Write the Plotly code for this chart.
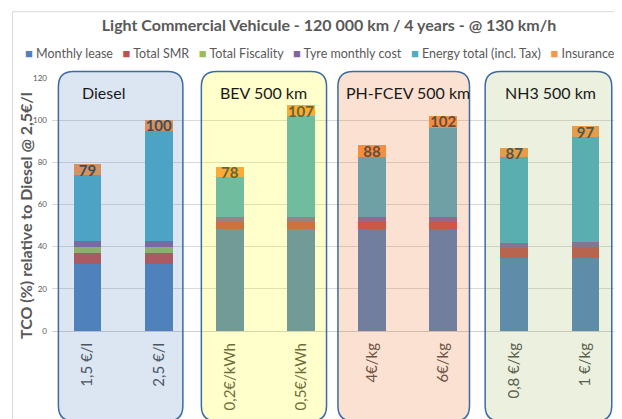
import plotly.graph_objects as go

# --- data --------------------------------------------------------------------
categories = ["1,5 €/l", "2,5 €/l", "0,2€/kWh", "0,5€/kWh", "4€/kg", "6€/kg", "0,8 €/kg", "1 €/kg"]

monthly_lease = [32, 32, 48.5, 48.5, 48.5, 48.5, 34.5, 34.5]
total_smr = [5, 5, 3.3, 3.3, 3.3, 3.3, 5, 5.2]
total_fiscality = [3, 3, 0, 0, 0, 0, 0, 0]
tyre_cost = [2.5, 2.5, 2.2, 2.2, 2.3, 2.2, 2.2, 2.3]
energy_total = [31.5, 52.5, 19.2, 47.8, 28.6, 42.5, 40.7, 50.2]
insurance = [5, 5, 4.8, 5.2, 5.3, 5.5, 4.6, 4.8]

groups = ["Diesel", "BEV 500 km", "PH-FCEV 500 km", "NH3 500 km"]

series = [
    ("Monthly lease", monthly_lease, "#4F81BD"),
    ("Total SMR", total_smr, "#C0504D"),
    ("Total Fiscality", total_fiscality, "#9BBB59"),
    ("Tyre monthly cost", tyre_cost, "#8064A2"),
    ("Energy total (incl. Tax)", energy_total, "#4BACC6"),
    ("Insurance", insurance, "#F79646"),
]

totals = [sum(v) for v in zip(*[s[1] for s in series])]

FONT = "Lato"
GREY = "#595959"

# page body has an 8px margin, so the figure is shrunk by that much
OFF = 8
W, H = 622 - OFF, 419 - OFF
ML, MT, MB, MR = 52 - OFF, 78 - OFF, 88, 1
plot_w, plot_h = W - ML - MR, H - MT - MB


def pxx(x):  # window pixel x -> paper
    return (x - OFF - ML) / plot_w


def pxy(y):  # window pixel y -> paper
    return 1 - (y - OFF - MT) / plot_h


fig = go.Figure()
for name, vals, color in series:
    fig.add_trace(go.Bar(x=categories, y=vals, name=name, marker_color=color,
                         marker_line_width=0, width=0.39))

# total labels (drawn as a trace so the group boxes tint them like the original)
fig.add_trace(go.Scatter(
    x=categories, y=totals, mode="text", text=[f"{round(t)}" for t in totals],
    textposition="bottom center", showlegend=False, cliponaxis=False,
    textfont=dict(family=FONT, size=15, color="#404040", weight="bold"),
))

# --- rounded group boxes (semi-transparent, drawn above the bars) ------------
n = len(categories)
box_left = [-0.41, 1.60, 3.52, 5.59]
box_right = [1.34, 3.36, 5.37, 7.37]
box_fill = ["rgba(79,129,189,0.2)", "rgba(255,255,0,0.2)",
            "rgba(235,120,50,0.22)", "rgba(155,187,89,0.2)"]
label_x = [0.22, 2.47, 4.5, 6.51]


def cx(i):  # category index -> paper
    return (i + 0.5) / n


def rounded_box(x0, x1, y0, y1, r=15):
    rx, ry = r / plot_w, r / plot_h
    return (f"M {x0 + rx},{y1} L {x1 - rx},{y1} Q {x1},{y1} {x1},{y1 - ry} "
            f"L {x1},{y0 + ry} Q {x1},{y0} {x1 - rx},{y0} L {x0 + rx},{y0} "
            f"Q {x0},{y0} {x0},{y0 + ry} L {x0},{y1 - ry} Q {x0},{y1} {x0 + rx},{y1} Z")


shapes = []
for g in range(len(groups)):
    shapes.append(dict(
        type="path", xref="paper", yref="paper", layer="above",
        path=rounded_box(cx(box_left[g]), cx(box_right[g]), pxy(421), pxy(71.5)),
        fillcolor=box_fill[g], line=dict(color="#3d6aa2", width=1.5),
    ))

# chart frame (only left/top visible)
shapes.append(dict(type="rect", xref="paper", yref="paper", layer="below",
                   x0=pxx(12.5), x1=pxx(700), y0=pxy(500), y1=pxy(11.7),
                   line=dict(color="#d9d9d9", width=1), fillcolor="rgba(0,0,0,0)"))

annotations = []
for g, name in enumerate(groups):
    annotations.append(dict(x=cx(label_x[g]), y=pxy(92), xref="paper", yref="paper",
                            xanchor="center", yanchor="middle",
                            text=name, showarrow=False,
                            font=dict(family=FONT, size=16, color="#1a1a1a")))

# compact legend line like the Excel original
legend_txt = "&nbsp;&nbsp;&nbsp;".join(
    f"<span style='color:{c};font-size:13px'>■</span>&nbsp;{name}" for name, _, c in series)
annotations.append(dict(x=pxx(319.5), y=pxy(53), xref="paper", yref="paper",
                        xanchor="center", yanchor="middle",
                        text=legend_txt, showarrow=False,
                        font=dict(family=FONT, size=12.5, color=GREY)))

annotations.append(dict(x=pxx(25), y=pxy(216), xref="paper", yref="paper",
                        xanchor="center", yanchor="middle",
                        text="TCO (%) relative to Diesel @ 2,5€/l", textangle=-90, showarrow=False,
                        font=dict(family=FONT, size=16, color=GREY, weight="bold")))

fig.update_layout(
    width=W, height=H,
    margin=dict(l=ML, r=MR, t=MT, b=MB, pad=0),
    barmode="stack",
    showlegend=False,
    paper_bgcolor="white", plot_bgcolor="white",
    title=dict(text="<b>Light Commercial Vehicule - 120 000 km / 4 years - @ 130 km/h</b>",
               x=(329 - OFF) / W, xanchor="center", y=1 - (25 - OFF) / H, yanchor="middle",
               font=dict(family=FONT, size=16, color=GREY)),
    shapes=shapes,
    annotations=annotations,
    font=dict(family=FONT, color=GREY),
)
fig.update_xaxes(tickangle=-90, ticklabelstandoff=8, showgrid=False, showline=False,
                 tickfont=dict(family=FONT, size=15, color="#4a4a4a"), range=[-0.5, n - 0.5])
fig.update_yaxes(range=[0, 120], dtick=20, showgrid=True, gridcolor="#d9d9d9",
                 zeroline=True, zerolinecolor="#cfcfcf", zerolinewidth=1,
                 ticklabelstandoff=4, tickfont=dict(family=FONT, size=8, color=GREY))

fig.write_html("out.html")
